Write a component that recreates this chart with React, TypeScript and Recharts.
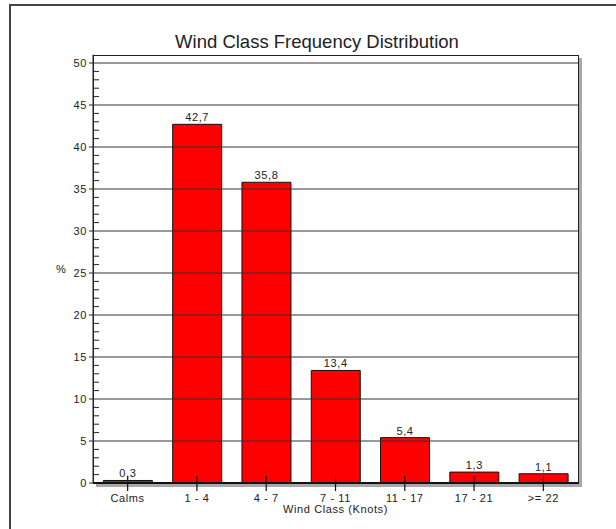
import { BarChart, Bar, XAxis, YAxis, ReferenceLine, LabelList } from "recharts";

const classes = ["Calms", "1 - 4", "4 - 7", "7 - 11", "11 - 17", "17 - 21", ">= 22"];
const percents = [0.3, 42.7, 35.8, 13.4, 5.4, 1.3, 1.1];
const yTicks = Array.from({ length: 51 }, (_, i) => i);
const gridValues = [5, 10, 15, 20, 25, 30, 35, 40, 45, 50];

const data = classes.map((name, i) => ({ name, pct: percents[i] }));

const FONT = "'Liberation Sans', Arial, sans-serif";
const TXT = "#222";

function YTick(props: any) {
  const { x, y, payload } = props;
  const v = payload.value;
  if (v % 5 === 0) {
    return (
      <g>
        <line x1={x - 4} x2={x} y1={y} y2={y} stroke="#222" />
        <text x={x - 6} y={y} dy="0.35em" textAnchor="end" fontSize={11} letterSpacing={0.6} fontFamily={FONT} fill={TXT}>
          {v}
        </text>
      </g>
    );
  }
  return <line x1={x} x2={x + 6} y1={y} y2={y} stroke="#222" />;
}

function XTick(props: any) {
  const { x, y, payload } = props;
  return (
    <g>
      <line x1={x} x2={x} y1={y - 7} y2={y + 8} stroke="#111" strokeWidth={1.2} />
      <text x={x} y={y + 15} dy="0.35em" textAnchor="middle" fontSize={11} letterSpacing={0.6} fontFamily={FONT} fill={TXT}>
        {payload.value}
      </text>
    </g>
  );
}

export default function App() {
  return (
    <div style={{ position: "absolute", left: 0, top: 0, width: 616, height: 529, background: "#fff" }}>
      <div
        style={{
          position: "absolute",
          left: 9,
          top: 4,
          width: 700,
          height: 600,
          borderLeft: "2px solid #444",
          borderTop: "2px solid #444",
        }}
      />
      <div
        style={{
          position: "absolute",
          left: 93,
          top: 55,
          width: 484,
          height: 427,
          border: "1px solid #222",
          boxShadow: "3px 3px 0 #a8a8a8",
        }}
      />
      <div
        style={{
          position: "absolute",
          left: 0,
          top: 31,
          width: 634,
          textAlign: "center",
          fontFamily: FONT,
          fontSize: 18.5,
          color: "#222",
        }}
      >
        Wind Class Frequency Distribution
      </div>
      <div style={{ position: "absolute", left: 0, top: 0 }}>
        <BarChart
          width={616}
          height={529}
          data={data}
          margin={{ top: 54.6, right: 38, bottom: 0, left: 53 }}
          barCategoryGap="15%"
        >
          <XAxis
            dataKey="name"
            height={46}
            tick={<XTick />}
            tickLine={false}
            tickSize={0}
            tickMargin={0}
            interval={0}
            axisLine={{ stroke: "#111", strokeWidth: 2 }}
            label={{
              value: "Wind Class (Knots)",
              position: "insideBottom",
              offset: 16,
              fontSize: 11,
              letterSpacing: 0.6,
              fontFamily: FONT,
              fill: TXT,
            }}
          />
          <YAxis
            width={40}
            domain={[0, 51]}
            ticks={yTicks}
            interval={0}
            tick={<YTick />}
            tickLine={false}
            tickSize={0}
            tickMargin={0}
            axisLine={{ stroke: "#222" }}
            label={{
              value: "%",
              position: "insideLeft",
              offset: 3,
              fontSize: 11,
              fontFamily: FONT,
              fill: TXT,
            }}
          />
          {gridValues.map((v) => (
            <ReferenceLine key={v} y={v} stroke="#333" strokeWidth={1} />
          ))}
          <Bar dataKey="pct" fill="#ff0000" stroke="#111" strokeWidth={1} isAnimationActive={false}>
            <LabelList
              dataKey="pct"
              position="top"
              offset={3}
              formatter={(v: any) => String(v).replace(".", ",")}
              style={{ fontSize: 11, letterSpacing: 0.6, fontFamily: FONT, fill: TXT }}
            />
          </Bar>
        </BarChart>
      </div>
    </div>
  );
}
